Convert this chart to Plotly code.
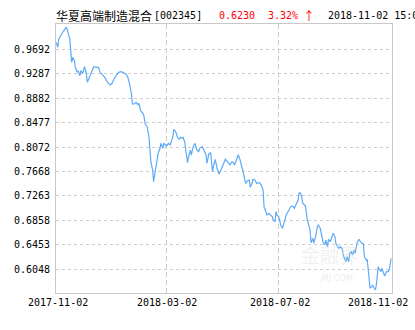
import plotly.graph_objects as go

dates = [
    "2017-11-02", "2017-11-04", "2017-11-05", "2017-11-08", "2017-11-10", "2017-11-13", "2017-11-14",
    "2017-11-16", "2017-11-17", "2017-11-19", "2017-11-20", "2017-11-22", "2017-11-23", "2017-11-25",
    "2017-11-26", "2017-11-28", "2017-11-29", "2017-12-01", "2017-12-03", "2017-12-05", "2017-12-06",
    "2017-12-09", "2017-12-11", "2017-12-13", "2017-12-16", "2017-12-18", "2017-12-20", "2017-12-22",
    "2017-12-25", "2017-12-28", "2017-12-31", "2018-01-02", "2018-01-04", "2018-01-07", "2018-01-09",
    "2018-01-12", "2018-01-15", "2018-01-17", "2018-01-19", "2018-01-21", "2018-01-23", "2018-01-24",
    "2018-01-26", "2018-01-28", "2018-01-30", "2018-01-31", "2018-02-02", "2018-02-05", "2018-02-07",
    "2018-02-09", "2018-02-11", "2018-02-12", "2018-02-13", "2018-02-15", "2018-02-16", "2018-02-18",
    "2018-02-19", "2018-02-21", "2018-02-23", "2018-02-24", "2018-02-26", "2018-02-27", "2018-03-02",
    "2018-03-04", "2018-03-06", "2018-03-07", "2018-03-09", "2018-03-10", "2018-03-12", "2018-03-14",
    "2018-03-16", "2018-03-17", "2018-03-19", "2018-03-20", "2018-03-22", "2018-03-23", "2018-03-25",
    "2018-03-26", "2018-03-28", "2018-03-29", "2018-03-31", "2018-04-02", "2018-04-04", "2018-04-06",
    "2018-04-07", "2018-04-10", "2018-04-12", "2018-04-14", "2018-04-15", "2018-04-17", "2018-04-19",
    "2018-04-21", "2018-04-22", "2018-04-24", "2018-04-26", "2018-04-28", "2018-05-01", "2018-05-03",
    "2018-05-05", "2018-05-08", "2018-05-10", "2018-05-12", "2018-05-14", "2018-05-15", "2018-05-18",
    "2018-05-19", "2018-05-21", "2018-05-23", "2018-05-25", "2018-05-27", "2018-05-29", "2018-05-31",
    "2018-06-01", "2018-06-03", "2018-06-04", "2018-06-06", "2018-06-08", "2018-06-11", "2018-06-13",
    "2018-06-15", "2018-06-16", "2018-06-18", "2018-06-19", "2018-06-21", "2018-06-23", "2018-06-25",
    "2018-06-26", "2018-06-28", "2018-06-29", "2018-06-30", "2018-07-02", "2018-07-03", "2018-07-04",
    "2018-07-06", "2018-07-07", "2018-07-09", "2018-07-10", "2018-07-12", "2018-07-14", "2018-07-15",
    "2018-07-17", "2018-07-19", "2018-07-20", "2018-07-23", "2018-07-24", "2018-07-25", "2018-07-27",
    "2018-07-28", "2018-07-30", "2018-07-31", "2018-08-02", "2018-08-05", "2018-08-06", "2018-08-08",
    "2018-08-09", "2018-08-11", "2018-08-13", "2018-08-14", "2018-08-16", "2018-08-18", "2018-08-19",
    "2018-08-21", "2018-08-22", "2018-08-24", "2018-08-25", "2018-08-27", "2018-08-29", "2018-08-30",
    "2018-09-01", "2018-09-02", "2018-09-04", "2018-09-05", "2018-09-07", "2018-09-09", "2018-09-10",
    "2018-09-12", "2018-09-13", "2018-09-14", "2018-09-16", "2018-09-17", "2018-09-19", "2018-09-20",
    "2018-09-22", "2018-09-23", "2018-09-25", "2018-09-27", "2018-09-29", "2018-09-30", "2018-10-02",
    "2018-10-03", "2018-10-05", "2018-10-06", "2018-10-08", "2018-10-09", "2018-10-11", "2018-10-12",
    "2018-10-13", "2018-10-15", "2018-10-16", "2018-10-18", "2018-10-19", "2018-10-21", "2018-10-22",
    "2018-10-24", "2018-10-25", "2018-10-27", "2018-10-29", "2018-10-30", "2018-11-01",
]

nav = [
    0.9808, 0.9725, 0.9863, 0.9945, 0.9990, 1.0056, 1.0028,
    0.9917, 0.9863, 0.9477, 0.9559, 0.9503, 0.9394, 0.9311,
    0.9338, 0.9255, 0.9338, 0.9294, 0.9404, 0.9283, 0.9145,
    0.9255, 0.9338, 0.9404, 0.9394, 0.9394, 0.9311, 0.9283,
    0.9228, 0.9145, 0.9101, 0.9129, 0.9200, 0.9271, 0.9311,
    0.9321, 0.9294, 0.9283, 0.9228, 0.9117, 0.8952, 0.8786,
    0.8786, 0.8814, 0.8774, 0.8798, 0.8675, 0.8620, 0.8455,
    0.8410, 0.8244, 0.8024, 0.7830, 0.7693, 0.7499, 0.7693,
    0.7804, 0.7969, 0.8052, 0.8135, 0.8052, 0.8135, 0.8090,
    0.8135, 0.8107, 0.8161, 0.8244, 0.8367, 0.8327, 0.8234,
    0.8201, 0.8234, 0.8218, 0.8234, 0.8145, 0.8024, 0.7814,
    0.7913, 0.8024, 0.7941, 0.8079, 0.8135, 0.8024, 0.7996,
    0.8052, 0.8079, 0.7996, 0.7941, 0.7804, 0.7958, 0.7979,
    0.7665, 0.7747, 0.7870, 0.7721, 0.7626, 0.7721, 0.7804,
    0.7870, 0.7814, 0.7776, 0.7830, 0.7814, 0.7776, 0.7903,
    0.7946, 0.7858, 0.7747, 0.7610, 0.7472, 0.7515, 0.7527,
    0.7406, 0.7472, 0.7539, 0.7527, 0.7472, 0.7482, 0.7444,
    0.7361, 0.7085, 0.7002, 0.6947, 0.6975, 0.6947, 0.6919,
    0.6865, 0.6836, 0.7002, 0.6947, 0.6919, 0.6865, 0.6782,
    0.6727, 0.6782, 0.6893, 0.6947, 0.7002, 0.7058, 0.7085,
    0.7096, 0.7058, 0.7096, 0.7196, 0.7307, 0.7317, 0.7250,
    0.7141, 0.7113, 0.7096, 0.6865, 0.6699, 0.6489, 0.6561,
    0.6479, 0.6588, 0.6765, 0.6782, 0.6727, 0.6588, 0.6505,
    0.6450, 0.6533, 0.6422, 0.6545, 0.6505, 0.6616, 0.6644,
    0.6588, 0.6479, 0.6422, 0.6396, 0.6422, 0.6379, 0.6285,
    0.6214, 0.6174, 0.6257, 0.6174, 0.6313, 0.6339, 0.6285,
    0.6368, 0.6313, 0.6479, 0.6545, 0.6505, 0.6479, 0.6467,
    0.6257, 0.6202, 0.6214, 0.5925, 0.5733, 0.5760, 0.5788,
    0.5750, 0.5705, 0.5788, 0.6091, 0.6048, 0.6008, 0.6064,
    0.5982, 0.5937, 0.6008, 0.6008, 0.6036, 0.6230,
]

y_ticks = [0.6048, 0.6453, 0.6858, 0.7263, 0.7668, 0.8072, 0.8477, 0.8882, 0.9287, 0.9692]
x_ticks = ["2017-11-02", "2018-03-02", "2018-07-02", "2018-11-02"]

fund_name = "华夏高端制造混合"
fund_code = "[002345]"
last_nav = "0.6230"
change = "3.32%"
arrow = "↑"
timestamp = "2018-11-02 15:00"

MONO = "DejaVu Sans Mono"
CJK = "Noto Sans CJK SC"

fig = go.Figure()
fig.add_trace(go.Scatter(
    x=dates, y=nav, mode="lines",
    line=dict(color="#5eaaf7", width=1.2),
    hoverinfo="skip", showlegend=False,
))

L, R, T, B = 56, 23, 24, 37
W, H = 415, 330
pw, ph = W - L - R, H - T - B

def px(x):
    return (x - L) / pw

def py(y):
    return (H - B - y) / ph

def label(text, x, y, anchor, family, size, color):
    return dict(text=text, x=px(x), y=py(y), xref="paper", yref="paper", xanchor=anchor,
                yanchor="middle", showarrow=False, borderpad=0,
                font=dict(family=family, size=size, color=color))

ann = []
# watermark
ann.append(dict(text="金融界", x=px(360), y=py(270), xref="paper", yref="paper",
                showarrow=False, font=dict(family=CJK, size=19, color="rgba(215,215,215,0.4)")))
ann.append(dict(text="<i>JRJ.COM</i>", x=px(355), y=py(285), xref="paper", yref="paper",
                showarrow=False, font=dict(family="DejaVu Sans", size=8, color="rgba(215,215,215,0.5)")))
# title pieces
ann.append(label(fund_name, 55, 15.5, "left", CJK, 12, "#000000"))
ann.append(label(fund_code, 153, 15.5, "left", MONO, 10, "#000000"))
ann.append(label(last_nav, 218, 15.5, "left", MONO, 10, "#ff0000"))
ann.append(label(change, 267, 15.5, "left", MONO, 10, "#ff0000"))
ann.append(label(arrow, 302, 15.5, "left", CJK, 12, "#ff0000"))
ann.append(label(timestamp, 327, 15.5, "left", MONO, 10, "#000000"))
# x tick labels
for i, d in enumerate(x_ticks):
    a = dict(text=d, x=d, y=py(302), xref="x", yref="paper", yanchor="middle",
             showarrow=False, font=dict(family=MONO, size=10, color="#000000"))
    if i == len(x_ticks) - 1:
        a["xanchor"] = "right"
        a["xshift"] = 18
    else:
        a["xanchor"] = "center"
        a["xshift"] = 2 if i == 0 else 1
    ann.append(a)

fig.update_layout(
    width=W, height=H,
    margin=dict(l=L, r=R, t=T, b=B, pad=0),
    paper_bgcolor="#ffffff", plot_bgcolor="#ffffff",
    annotations=ann,
    xaxis=dict(
        type="date", range=["2017-11-02", "2018-11-02"],
        tickvals=x_ticks, showticklabels=False, ticks="",
        showgrid=True, gridcolor="#cccccc", gridwidth=1, griddash="5px,3px",
        showline=True, linecolor="#c8c8c8", linewidth=1, mirror=True, zeroline=False,
    ),
    yaxis=dict(
        range=[0.5655, 1.0111],
        tickvals=y_ticks, ticktext=[f"{v:.4f}" for v in y_ticks], ticks="",
        tickfont=dict(family=MONO, size=10, color="#000000"),
        ticklabelstandoff=3,
        showgrid=True, gridcolor="#cccccc", gridwidth=1, griddash="3px,3px",
        showline=True, linecolor="#c8c8c8", linewidth=1, mirror=True, zeroline=False,
    ),
)

fig.write_html("out.html")
